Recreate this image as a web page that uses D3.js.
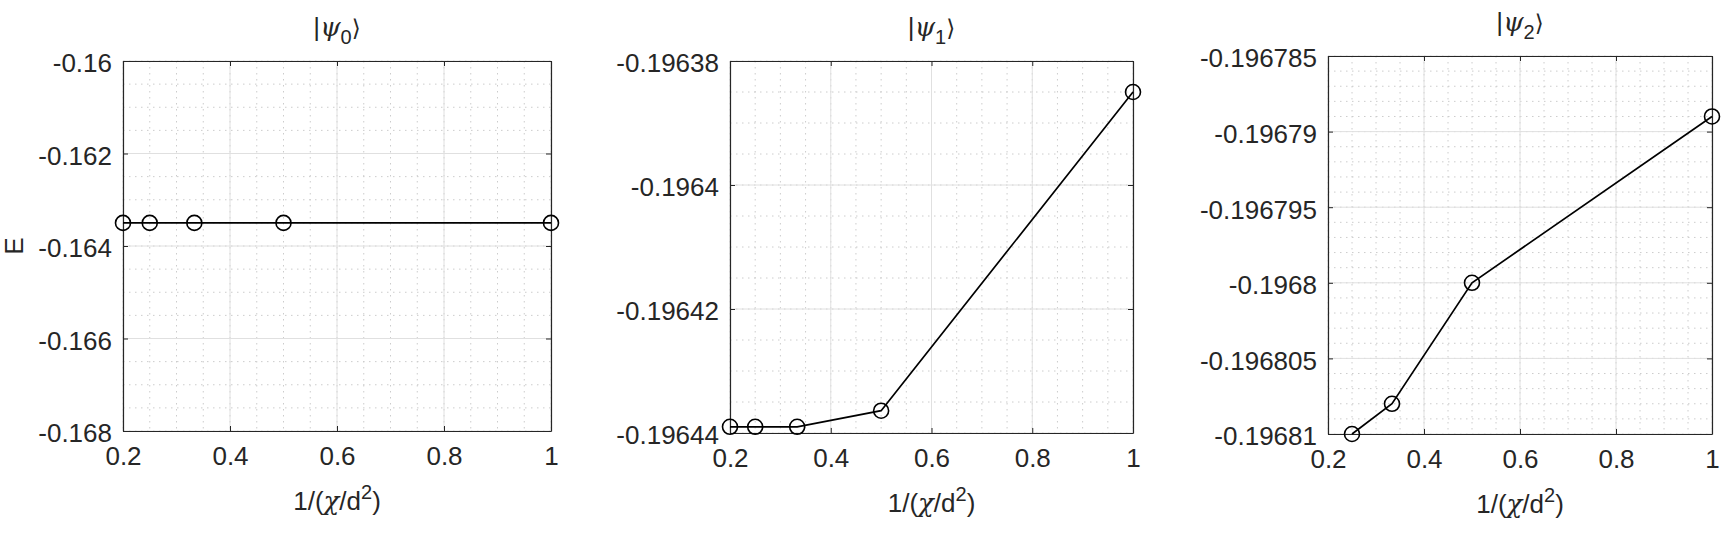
<!DOCTYPE html>
<html>
<head>
<meta charset="utf-8">
<script src="https://cdn.jsdelivr.net/npm/d3@7/dist/d3.min.js"></script>
<style>
  html, body { margin: 0; padding: 0; background: #fff; }
  svg { display: block; }
  text { font-family: "Liberation Sans", Arial, Helvetica, sans-serif; fill: #262626; }
</style>
</head>
<body>
<svg id="chart" width="1721" height="536"></svg>
<script>
// ---------- data ----------
const xTicks = [0.2, 0.4, 0.6, 0.8, 1];
const xTickLabels = ["0.2", "0.4", "0.6", "0.8", "1"];

const x0 = [0.2, 0.25, 1 / 3, 0.5, 1];
const E0 = [-0.1635, -0.1635, -0.1635, -0.1635, -0.1635];
const yTicks0 = [-0.168, -0.166, -0.164, -0.162, -0.16];
const yTickLabels0 = ["-0.168", "-0.166", "-0.164", "-0.162", "-0.16"];

const x1 = [0.2, 0.25, 1 / 3, 0.5, 1];
const E1 = [-0.196439, -0.196439, -0.196439, -0.1964364, -0.196385];
const yTicks1 = [-0.19644, -0.19642, -0.1964, -0.19638];
const yTickLabels1 = ["-0.19644", "-0.19642", "-0.1964", "-0.19638"];

const x2 = [0.25, 1 / 3, 0.5, 1];
const E2 = [-0.19681, -0.196808, -0.1968, -0.196789];
const yTicks2 = [-0.19681, -0.196805, -0.1968, -0.196795, -0.19679, -0.196785];
const yTickLabels2 = ["-0.19681", "-0.196805", "-0.1968", "-0.196795", "-0.19679", "-0.196785"];

const subscripts = ["0", "1", "2"];

// ---------- layout ----------
const panels = [
  { x: x0, y: E0, yt: yTicks0, yl: yTickLabels0, sub: subscripts[0], minorY: 0.0005,
    box: { l: 123, r: 551, t: 61, b: 431 }, titleY: 36, ylabel: true },
  { x: x1, y: E1, yt: yTicks1, yl: yTickLabels1, sub: subscripts[1], minorY: 0.000005,
    box: { l: 730, r: 1133, t: 61, b: 433 }, titleY: 36, ylabel: false },
  { x: x2, y: E2, yt: yTicks2, yl: yTickLabels2, sub: subscripts[2], minorY: 0.000001,
    box: { l: 1328, r: 1712, t: 56, b: 434 }, titleY: 31, ylabel: false }
];

const svg = d3.select("#chart");
const FS = 26;
const axisColor = "#262626";
const tickLen = 5;

panels.forEach(p => {
  const W = p.box.r - p.box.l, H = p.box.b - p.box.t;
  const g = svg.append("g").attr("transform", `translate(${p.box.l},${p.box.t})`);
  const yMin = p.yt[0], yMax = p.yt[p.yt.length - 1];
  const xs = d3.scaleLinear().domain([xTicks[0], xTicks[xTicks.length - 1]]).range([0, W]);
  const ys = d3.scaleLinear().domain([yMin, yMax]).range([H, 0]);

  // minor grid
  const nx = Math.round((xTicks[xTicks.length - 1] - xTicks[0]) / 0.05);
  const minorX = d3.range(nx + 1).map(i => xTicks[0] + i * 0.05);
  const ny = Math.round((yMax - yMin) / p.minorY);
  const minorY = d3.range(ny + 1).map(i => yMin + i * p.minorY);
  const gm = g.append("g").attr("stroke", "#cccccc").attr("stroke-width", 1)
    .attr("stroke-dasharray", "1.5,4.5");
  gm.selectAll("line.mx").data(minorX).join("line").attr("class", "mx")
    .attr("x1", d => xs(d)).attr("x2", d => xs(d)).attr("y1", 0).attr("y2", H);
  gm.selectAll("line.my").data(minorY).join("line").attr("class", "my")
    .attr("x1", 0).attr("x2", W).attr("y1", d => ys(d)).attr("y2", d => ys(d));

  // major grid
  const gM = g.append("g").attr("stroke", "#e0e0e0").attr("stroke-width", 1);
  gM.selectAll("line.gx").data(xTicks).join("line").attr("class", "gx")
    .attr("x1", d => xs(d)).attr("x2", d => xs(d)).attr("y1", 0).attr("y2", H);
  gM.selectAll("line.gy").data(p.yt).join("line").attr("class", "gy")
    .attr("x1", 0).attr("x2", W).attr("y1", d => ys(d)).attr("y2", d => ys(d));

  // axes
  const fmtX = (d, i) => xTickLabels[i];
  const fmtY = (d, i) => p.yl[i];
  const ab = g.append("g").attr("transform", `translate(0,${H})`)
    .call(d3.axisBottom(xs).tickValues(xTicks).tickFormat(fmtX)
      .tickSizeInner(-tickLen).tickSizeOuter(0).tickPadding(16));
  const at = g.append("g")
    .call(d3.axisTop(xs).tickValues(xTicks).tickFormat("")
      .tickSizeInner(-tickLen).tickSizeOuter(0));
  const al = g.append("g")
    .call(d3.axisLeft(ys).tickValues(p.yt).tickFormat(fmtY)
      .tickSizeInner(-tickLen).tickSizeOuter(0).tickPadding(11));
  const ar = g.append("g").attr("transform", `translate(${W},0)`)
    .call(d3.axisRight(ys).tickValues(p.yt).tickFormat("")
      .tickSizeInner(-tickLen).tickSizeOuter(0));
  [ab, at, al, ar].forEach(a => {
    a.select(".domain").attr("stroke", axisColor).attr("stroke-width", 1.2);
    a.selectAll(".tick line").attr("stroke", axisColor).attr("stroke-width", 1);
    a.selectAll(".tick text").attr("fill", axisColor)
      .style("font-size", FS + "px")
      .style("font-family", '"Liberation Sans", Arial, Helvetica, sans-serif');
  });
  al.selectAll(".tick text").attr("dy", "0.42em");
  ab.selectAll(".tick text").attr("dy", "0.68em");

  // data line
  const line = d3.line().x((d, i) => xs(p.x[i])).y(d => ys(d));
  g.append("path").datum(p.y).attr("d", line)
    .attr("fill", "none").attr("stroke", "#000").attr("stroke-width", 1.7);
  g.selectAll("circle.pt").data(p.y).join("circle").attr("class", "pt")
    .attr("cx", (d, i) => xs(p.x[i])).attr("cy", d => ys(d)).attr("r", 7.5)
    .attr("fill", "none").attr("stroke", "#000").attr("stroke-width", 1.6);

  // title |ψ_n⟩
  const cx = W / 2;
  const t = g.append("text").attr("x", cx).attr("y", p.titleY - p.box.t)
    .attr("text-anchor", "middle").style("font-size", FS + "px");
  t.append("tspan").text("|");
  t.append("tspan").text("ψ").style("font-style", "italic")
    .style("font-family", '"DejaVu Serif", "Liberation Serif", serif');
  t.append("tspan").text(p.sub).attr("dy", 8).style("font-size", "20px");
  t.append("tspan").text("⟩").attr("dy", -8)
    .style("font-family", '"DejaVu Sans", sans-serif').style("font-size", "23px");

  // x label 1/(χ/d²)
  const xl = g.append("text").attr("x", cx).attr("y", H + 79)
    .attr("text-anchor", "middle").style("font-size", FS + "px");
  xl.append("tspan").text("1/(");
  xl.append("tspan").text("χ").style("font-style", "italic")
    .style("font-family", '"DejaVu Serif", "Liberation Serif", serif');
  xl.append("tspan").text("/d");
  xl.append("tspan").text("2").attr("dy", -11).style("font-size", "20px");
  xl.append("tspan").text(")").attr("dy", 11);

  if (p.ylabel) {
    g.append("text")
      .attr("transform", `translate(${-123 + 23},${H / 2}) rotate(-90)`)
      .attr("text-anchor", "middle")
      .style("font-size", FS + "px").text("E");
  }
});
</script>
</body>
</html>
